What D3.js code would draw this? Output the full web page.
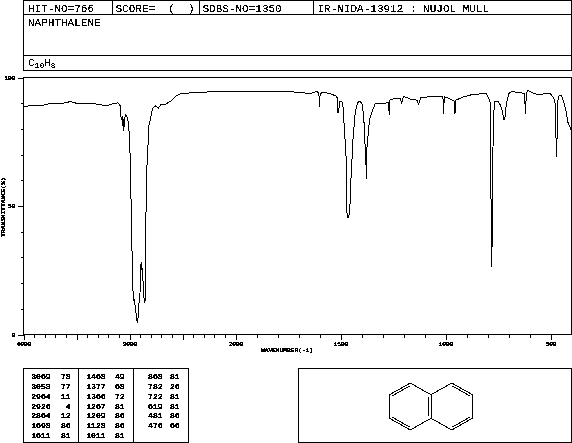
<!DOCTYPE html>
<html>
<head>
<meta charset="utf-8">
<script src="https://cdnjs.cloudflare.com/ajax/libs/d3/7.8.5/d3.min.js"></script>
<style>
html,body{margin:0;padding:0;background:#fff;overflow:hidden}
svg{display:block}
text{fill:#000;font-family:"Liberation Mono",monospace}
</style>
</head>
<body>
<svg id="c" width="572" height="443"></svg>
<script>
// Spectrum
const wavenumbers = [3995,3939,3910,3873,3807,3750,3599,3561,3495,3316,3212,3156,3108,3090,3080,3075,3066,3065,3058,3054,3047,3036,3017,3005,2995,2989,2983,2970,2964,2955,2951,2942,2932,2926,2920,2913,2901,2891,2885,2879,2876,2870,2860,2851,2847,2842,2828,2816,2800,2785,2759,2728,2706,2665,2634,2602,2571,2524,2508,2335,2108,2000,1859,1740,1692,1645,1613,1603,1600,1597,1581,1549,1521,1514,1513,1508,1506,1495,1489,1481,1473,1470,1465,1462,1457,1454,1451,1446,1441,1430,1419,1406,1395,1387,1382,1379,1378,1376,1371,1362,1350,1335,1319,1295,1271,1268,1265,1239,1215,1209,1200,1184,1168,1136,1128,1117,1064,1017,1012,1009,1006,985,958,955,950,914,866,834,805,794,786,784,780,777,775,773,767,751,739,728,723,718,711,699,683,643,624,619,615,608,580,556,524,500,484,476,473,470,467,461,448,437,425,418,408,400];
const transmittance = [88.5,89.1,89.1,88.9,89.3,89.9,90.1,90.7,89.9,89.7,88.9,89.9,90.1,89.3,84.7,83.4,85.0,81.1,83.8,79.1,84.2,85.4,84.2,79.5,70.6,62.8,44.4,21.1,13.3,13.6,12.1,10.1,5.5,5.1,6.2,11.3,16.1,27.7,28.1,22.2,25.7,17.2,12.6,13.3,32.0,59.4,71.7,81.5,84.2,87.7,89.0,88.1,89.3,89.3,90.3,91.0,92.5,93.6,93.8,94.2,94.7,94.7,94.7,94.5,94.1,93.8,94.5,94.1,88.6,93.8,94.2,93.7,92.8,91.9,86.2,86.2,90.8,90.8,89.9,79.5,68.6,47.7,45.5,45.5,47.2,51.6,59.4,66.7,75.6,86.2,90.3,90.8,89.3,81.5,71.7,71.1,60.7,71.1,75.6,83.4,86.7,89.7,89.7,89.9,90.3,85.4,91.2,91.9,91.9,90.2,92.5,92.3,91.5,91.2,89.6,92.3,92.5,92.8,91.9,85.7,92.5,91.9,90.8,86.0,91.2,92.5,93.5,93.6,93.6,91.9,89.9,58.1,26.2,41.8,58.9,80.8,90.6,90.8,89.3,86.7,83.7,83.7,89.3,93.8,94.5,94.1,93.8,85.8,94.1,94.9,93.8,93.2,93.8,93.6,91.9,89.3,72.4,68.9,89.9,92.8,93.1,90.6,86.7,82.8,80.8,78.9];

// Axis ticks and labels
const xMinorTicks = d3.range(4000, 400, -100);
const xLabelled = [4000, 3000, 2000, 1500, 1000, 500];
const xLongTicks = [4000, 3500, 3000, 2500, 2000, 1500, 1000, 500];
const yTicks = [100, 90, 80, 70, 60, 50, 40, 30, 20, 10, 0];
const yLabelled = [100, 50, 0];

// Header and peak table
const headerCells = ["HIT-NO=766", "SCORE=  (  )", "SDBS-NO=1350", "IR-NIDA-13912 : NUJOL MULL"];
const compoundName = "NAPHTHALENE";
const peakColumns = [
  [[3069,78],[3053,77],[2964,11],[2926,4],[2864,12],[1698,86],[1611,81]],
  [[1468,49],[1377,68],[1366,72],[1267,81],[1209,86],[1128,86],[1011,81]],
  [[868,81],[782,26],[722,81],[619,81],[481,86],[476,66]]
];

// Naphthalene skeleton on a small grid
const atoms = [[1,0],[0,1],[0,3],[1,4],[2,3],[2,1],[3,0],[4,1],[4,3],[3,4]];
const bonds = [[0,1,2],[1,2,1],[2,3,2],[3,4,1],[4,5,2],[5,0,1],[5,6,1],[6,7,2],[7,8,1],[8,9,2],[9,4,1]];

const svg = d3.select("#c");
const defs = svg.append("defs");
const mkFilter = (id,table) => {
  const f = defs.append("filter").attr("id",id).attr("x","-5%").attr("y","-5%").attr("width","110%").attr("height","110%")
    .attr("color-interpolation-filters","sRGB");
  f.append("feComponentTransfer").append("feFuncA").attr("type","discrete").attr("tableValues",table);
};
mkFilter("px","0 0 1 1 1");
mkFilter("pxTiny","0 1 1 1 1 1");

const crisp = g => g.attr("shape-rendering","crispEdges");
const rectBox = (g,x0,y0,x1,y1) => g.append("rect").attr("x",x0).attr("y",y0).attr("width",x1-x0).attr("height",y1-y0)
  .attr("fill","none").attr("stroke","#000").attr("stroke-width",1);
const hline = (g,x0,x1,y) => g.append("line").attr("x1",x0).attr("x2",x1).attr("y1",y).attr("y2",y).attr("stroke","#000");
const vline = (g,x,y0,y1) => g.append("line").attr("x1",x).attr("x2",x).attr("y1",y0).attr("y2",y1).attr("stroke","#000");

// Header
const hdr = svg.append("g").call(crisp);
rectBox(hdr,23.5,0.5,571.5,70.5);
hline(hdr,23.5,571.5,14.5);
hline(hdr,23.5,571.5,55.5);
[112.5,199.5,313.5].forEach(x => vline(hdr,x,0.5,14.5));
const hText = svg.append("g").attr("filter","url(#px)").attr("font-size",11);
const headerX = [28,115.5,202.5,317.5];
hText.selectAll("text.h").data(headerCells).join("text").attr("class","h")
  .attr("x",(d,i)=>headerX[i]).attr("y",11.5).style("white-space","pre").text(d=>d);
hText.append("text").attr("x",28).attr("y",25.5).text(compoundName);
const formula = hText.append("text").attr("x",28).attr("y",66);
formula.append("tspan").text("C");
formula.append("tspan").attr("font-size",8).attr("dy",2).text("10");
formula.append("tspan").attr("dy",-2).text("H");
formula.append("tspan").attr("font-size",8).attr("dy",2).text("8");

// Plot scales: the wavenumber axis changes its scale at 2000
const x = d3.scaleLinear().domain([4000,2000,400]).range([23.5,235.5,571.5]);
const y = d3.scaleLinear().domain([0,100]).range([334.5,77.5]);

// Axes
const axisG = svg.append("g").call(crisp);
rectBox(axisG,23.5,77.5,571.5,334.5);
const xLong = new Set(xLongTicks), xLab = new Set(xLabelled), yLab = new Set(yLabelled);
const xAxis = d3.axisBottom(x).tickValues(xMinorTicks).tickSizeOuter(0)
  .tickFormat(d => xLab.has(d) ? String(d) : "");
const gx = svg.append("g").attr("transform","translate(0,334.5)").call(xAxis);
gx.select(".domain").remove();
gx.selectAll(".tick line").attr("y2",d=>xLong.has(d)?5:3).attr("stroke","#000").attr("shape-rendering","crispEdges");
gx.selectAll(".tick text").attr("y",6).attr("dy","5").attr("font-family","Liberation Mono")
  .attr("font-size",6.2).attr("filter","url(#pxTiny)").attr("fill","#000");
const yAxis = d3.axisLeft(y).tickValues(yTicks).tickSizeOuter(0)
  .tickFormat(d => yLab.has(d) ? String(d) : "");
const gy = svg.append("g").attr("transform","translate(23.5,0)").call(yAxis);
gy.select(".domain").remove();
gy.selectAll(".tick line").attr("x2",d=>yLab.has(d)?-6:-3).attr("stroke","#000").attr("shape-rendering","crispEdges");
gy.selectAll(".tick text").attr("x",-8).attr("font-family","Liberation Mono")
  .attr("font-size",6.2).attr("filter","url(#pxTiny)").attr("fill","#000");

const tick = svg.append("g").attr("filter","url(#pxTiny)").attr("font-size",6.2);
tick.append("text").attr("transform","translate(5,207) rotate(-90)").attr("text-anchor","middle").text("TRANSMITTANCE(%)");
tick.append("text").attr("x",261).attr("y",351.5).text("WAVENUMBER(-1)");

// Spectrum
const pts = d3.zip(wavenumbers, transmittance);
svg.append("path").attr("d", d3.line().x(d=>x(d[0])).y(d=>y(d[1])).curve(d3.curveLinear)(pts))
  .attr("fill","none").attr("stroke","#000").attr("stroke-width",1).attr("shape-rendering","crispEdges");

// Peak table
const tbl = svg.append("g").call(crisp);
rectBox(tbl,23.5,368.5,188.5,442.5);
vline(tbl,78.5,368.5,442.5);
vline(tbl,133.5,368.5,442.5);
const wnRight = [50.5,105.5,162.5], valRight = [70.5,124.5,179.5];
const row = d3.scaleLinear().domain([0,6]).range([379,438]);
const tText = svg.append("g").attr("filter","url(#pxTiny)").attr("font-size",8).attr("text-anchor","end");
peakColumns.forEach((col,c) => {
  tText.selectAll(null).data(col).join("text").attr("x",wnRight[c]).attr("y",(d,i)=>row(i)).text(d=>d[0]);
  tText.selectAll(null).data(col).join("text").attr("x",valRight[c]).attr("y",(d,i)=>row(i)).text(d=>d[1]);
});

// Structure box
const st = svg.append("g").call(crisp);
rectBox(st,298.5,368.5,571.5,442.5);
const sx = d3.scaleLinear().domain([0,4]).range([389.5,472.5]);
const sy = d3.scaleLinear().domain([0,4]).range([383,430]);
const P = i => [sx(atoms[i][0]), sy(atoms[i][1])];
bonds.forEach(([a,b,order]) => {
  const [x1,y1] = P(a), [x2,y2] = P(b);
  const line = (p,q,r,s) => st.append("line").attr("x1",p).attr("y1",q).attr("x2",r).attr("y2",s).attr("stroke","#000");
  line(x1,y1,x2,y2);
  if (order === 2) {
    const mx=(x1+x2)/2, my=(y1+y2)/2;
    const ringA = atoms[a][0] >= 3 || atoms[b][0] >= 3 ? 3 : 1;
    let cx = sx(ringA), cy = sy(2);
    if (atoms[a][0]===2 && atoms[b][0]===2) cx = sx(1);
    const dx=x2-x1, dy=y2-y1, L=Math.hypot(dx,dy);
    let nx=-dy/L, ny=dx/L;
    if (nx*(cx-mx)+ny*(cy-my)<0) { nx=-nx; ny=-ny; }
    const off=2.3, t=0.08;
    line(x1+dx*t+nx*off,y1+dy*t+ny*off,x2-dx*t+nx*off,y2-dy*t+ny*off);
  }
});
</script>
</body>
</html>
